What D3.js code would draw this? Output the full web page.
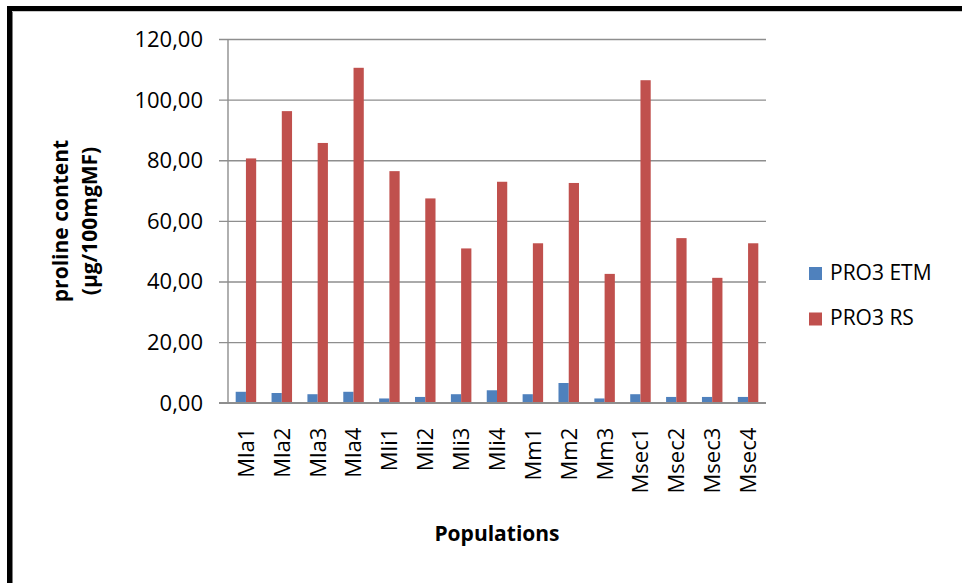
<!DOCTYPE html>
<html>
<head>
<meta charset="utf-8">
<script src="https://cdn.jsdelivr.net/npm/d3@7"></script>
<style>
  html, body { margin: 0; padding: 0; background: #fff; }
  svg { display: block; }
  text { font-family: "Open Sans", "Liberation Sans", sans-serif; fill: #000; }
</style>
</head>
<body>
<svg id="chart" width="962" height="583"></svg>
<script>
// Populations sampled
const categories = ["Mla1", "Mla2", "Mla3", "Mla4", "Mli1", "Mli2", "Mli3", "Mli4",
                    "Mm1", "Mm2", "Mm3", "Msec1", "Msec2", "Msec3", "Msec4"];
// Series names
const seriesNames = ["PRO3 ETM", "PRO3 RS"];
// Proline content (µg/100mg MF) per population
const etmValues = [3.6, 3.2, 2.8, 3.6, 1.4, 1.9, 2.8, 4.1, 2.8, 6.5, 1.4, 2.8, 1.9, 1.9, 1.9];
const rsValues  = [80.6, 96.2, 85.7, 110.5, 76.4, 67.4, 50.9, 72.9, 52.6, 72.5, 42.5, 106.4, 54.3, 41.2, 52.6];
// Y-axis ticks
const yTicks = [0, 20, 40, 60, 80, 100, 120];
const seriesColors = ["#4F81BD", "#C0504D"];

const svg = d3.select("#chart");

const plot = { left: 228, right: 766, top: 39, bottom: 402.7 };

const x = d3.scaleBand().domain(categories).range([plot.left, plot.right]).paddingInner(0).paddingOuter(0);
const xs = d3.scaleBand().domain(seriesNames).range([0, x.bandwidth()]).paddingInner(0).paddingOuter(0.75);
const y = d3.scaleLinear().domain([0, 120]).range([plot.bottom, plot.top]);
const color = d3.scaleOrdinal().domain(seriesNames).range(seriesColors);

// Outer frame (thick black rule on top and left)
svg.append("rect").attr("x", 7).attr("y", 6).attr("width", 962).attr("height", 5).attr("fill", "#000");
svg.append("rect").attr("x", 7).attr("y", 6).attr("width", 5.5).attr("height", 583).attr("fill", "#000");
svg.append("line").attr("x1", 12).attr("x2", 962).attr("y1", 11.5).attr("y2", 11.5)
  .attr("stroke", "#c8c8c8").attr("stroke-width", 1);

// Horizontal gridlines and y axis
const yAxis = d3.axisLeft(y).tickValues(yTicks)
  .tickSize(-(plot.right - plot.left))
  .tickFormat(d => d3.format(".2f")(d).replace(".", ","))
  .tickPadding(16);
const gy = svg.append("g").attr("transform", `translate(${plot.left},0)`).call(yAxis);
gy.select(".domain").remove();
gy.selectAll(".tick line").attr("stroke", "#8e8e8e").attr("stroke-width", 1.4).attr("x1", -9);
gy.selectAll(".tick text").attr("font-size", 22).attr("fill", "#000").attr("dy", "0.34em")
  .attr("x", -25);

// Vertical axis line
svg.append("line").attr("x1", plot.left).attr("x2", plot.left)
  .attr("y1", plot.top).attr("y2", plot.bottom)
  .attr("stroke", "#8e8e8e").attr("stroke-width", 1.4);

// Bars
const rows = categories.map((c, i) => ({ cat: c, vals: [etmValues[i], rsValues[i]] }));
const groups = svg.append("g").selectAll("g").data(rows).join("g")
  .attr("transform", d => `translate(${x(d.cat)},0)`);
groups.selectAll("rect")
  .data(d => d.vals.map((v, k) => ({ name: seriesNames[k], v })))
  .join("rect")
  .attr("x", d => xs(d.name))
  .attr("width", xs.bandwidth())
  .attr("y", d => y(d.v))
  .attr("height", d => y(0) - y(d.v))
  .attr("fill", d => color(d.name));

// Category axis
const xAxis = d3.axisBottom(x).tickSize(0).tickPadding(0);
const gx = svg.append("g").attr("transform", `translate(0,${plot.bottom})`).call(xAxis);
gx.select(".domain").attr("stroke", "#8e8e8e").attr("stroke-width", 1.4)
  .attr("d", `M${plot.left - 9},0H${plot.right}`);
gx.selectAll(".tick text")
  .attr("font-size", 22)
  .attr("fill", "#000")
  .attr("text-anchor", "end")
  .attr("transform", "rotate(-90)")
  .attr("x", -25)
  .attr("y", 0)
  .attr("dy", "0.36em");

// Axis titles
const yTitle = svg.append("text")
  .attr("transform", "translate(68,221) rotate(-90)")
  .attr("text-anchor", "middle")
  .attr("font-weight", "bold")
  .attr("font-size", 21);
yTitle.append("tspan").attr("x", 0).attr("dy", 0).text("proline content");
yTitle.append("tspan").attr("x", 0).attr("dy", 29).text("(µg/100mgMF)");

svg.append("text")
  .attr("x", 497).attr("y", 541)
  .attr("text-anchor", "middle")
  .attr("font-weight", "bold")
  .attr("font-size", 21)
  .text("Populations");

// Legend
const legend = svg.append("g").selectAll("g").data(seriesNames).join("g")
  .attr("transform", (d, i) => `translate(809,${267 + i * 45.5})`);
legend.append("rect").attr("width", 13).attr("height", 13).attr("fill", d => color(d));
legend.append("text").attr("x", 21).attr("y", 12.5).attr("font-size", 21).text(d => d);
</script>
</body>
</html>
